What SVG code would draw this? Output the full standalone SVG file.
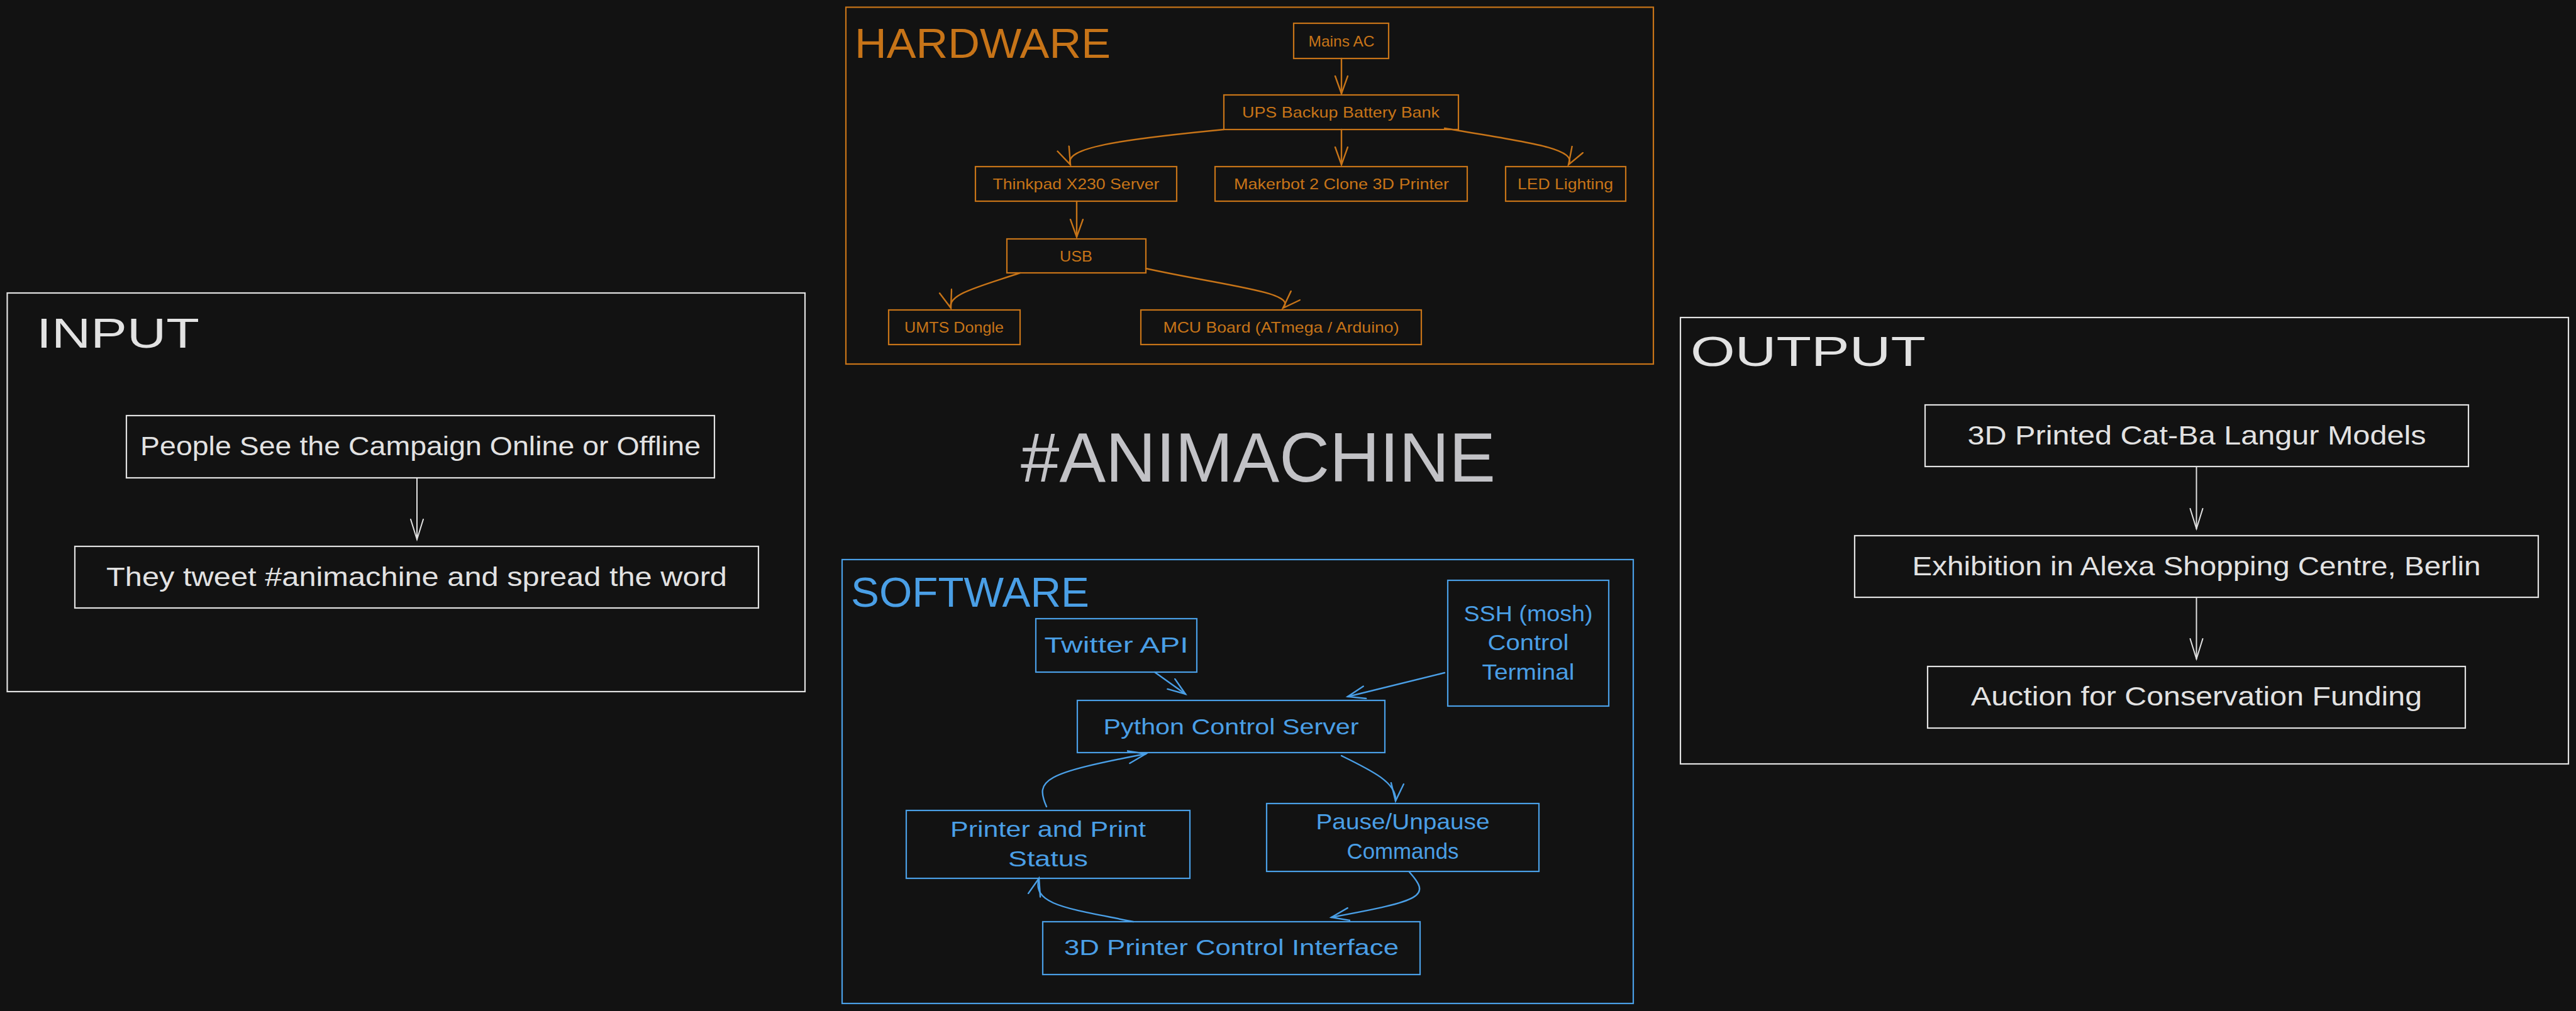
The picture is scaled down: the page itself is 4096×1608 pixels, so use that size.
<svg xmlns="http://www.w3.org/2000/svg" width="4096" height="1608" viewBox="0 0 4096 1608">
<style>
text{font-family:"Liberation Sans",Arial,sans-serif;}
.bg{fill:#121212;}
.box{fill:none;stroke-width:2.2;}
.hw{stroke:#c77418;}
.sw{stroke:#4a9fe6;}
.wt{stroke:#e2e2e2;}
.thw{fill:#c77418;}
.tsw{fill:#4a9fe6;}
.twt{fill:#e2e2e2;}
.c{text-anchor:middle;}
.f24{font-size:24px;}
.f35{font-size:35px;}
.f43{font-size:43px;}
.ttl{font-size:66px;}
.con{fill:none;stroke-width:2.4;stroke-linecap:round;}
</style>
<defs>
<marker id="ahw" markerUnits="userSpaceOnUse" markerWidth="34" markerHeight="26" refX="29" refY="11" orient="auto"><path d="M1,1 L29,11 L1,21" fill="none" stroke="#c77418" stroke-width="2.4" stroke-linecap="round"/></marker>
<marker id="asw" markerUnits="userSpaceOnUse" markerWidth="34" markerHeight="26" refX="29" refY="11" orient="auto"><path d="M1,1 L29,11 L1,21" fill="none" stroke="#4a9fe6" stroke-width="2.4" stroke-linecap="round"/></marker>
<marker id="awt" markerUnits="userSpaceOnUse" markerWidth="38" markerHeight="26" refX="33" refY="11" orient="auto"><path d="M1,1 L33,11 L1,21" fill="none" stroke="#e2e2e2" stroke-width="2" stroke-linecap="round"/></marker>
</defs>
<rect class="bg" x="0" y="0" width="4096" height="1608"/>

<!-- HARDWARE -->
<g id="hardware">
<rect class="box hw" x="1345" y="11.5" width="1284" height="567.5"/>
<text class="thw ttl" x="1359" y="92" textLength="407" lengthAdjust="spacingAndGlyphs">HARDWARE</text>
</g>
<g id="mains-ac"><rect class="box hw" x="2057" y="37" width="151" height="56"/><text class="thw f24 c" x="2133" y="73.5" textLength="105" lengthAdjust="spacingAndGlyphs">Mains AC</text></g>
<g id="ups"><rect class="box hw" x="1946" y="151" width="373" height="55"/><text class="thw f24 c" x="2132" y="187" textLength="314" lengthAdjust="spacingAndGlyphs">UPS Backup Battery Bank</text></g>
<g id="thinkpad"><rect class="box hw" x="1551" y="265" width="320" height="55"/><text class="thw f24 c" x="1711" y="301" textLength="265" lengthAdjust="spacingAndGlyphs">Thinkpad X230 Server</text></g>
<g id="makerbot"><rect class="box hw" x="1932" y="265" width="401" height="55"/><text class="thw f24 c" x="2133" y="301" textLength="342" lengthAdjust="spacingAndGlyphs">Makerbot 2 Clone 3D Printer</text></g>
<g id="led"><rect class="box hw" x="2394" y="265" width="191" height="55"/><text class="thw f24 c" x="2489" y="301" textLength="152" lengthAdjust="spacingAndGlyphs">LED Lighting</text></g>
<g id="usb"><rect class="box hw" x="1601" y="380" width="221" height="54"/><text class="thw f24 c" x="1711" y="415.5" textLength="52" lengthAdjust="spacingAndGlyphs">USB</text></g>
<g id="umts"><rect class="box hw" x="1413" y="493" width="209" height="55"/><text class="thw f24 c" x="1517" y="529" textLength="158" lengthAdjust="spacingAndGlyphs">UMTS Dongle</text></g>
<g id="mcu"><rect class="box hw" x="1814" y="493" width="446" height="55"/><text class="thw f24 c" x="2037" y="529" textLength="375" lengthAdjust="spacingAndGlyphs">MCU Board (ATmega / Arduino)</text></g>

<!-- SOFTWARE -->
<g id="software">
<rect class="box sw" x="1339" y="890" width="1258" height="706"/>
<text class="tsw ttl" x="1353" y="965" textLength="379" lengthAdjust="spacingAndGlyphs">SOFTWARE</text>
</g>
<g id="twitter-api"><rect class="box sw" x="1647" y="984" width="256" height="85"/><text class="tsw f35 c" x="1775" y="1038" textLength="229" lengthAdjust="spacingAndGlyphs">Twitter API</text></g>
<g id="ssh"><rect class="box sw" x="2302" y="923" width="256" height="200"/>
<text class="tsw f35 c" x="2430" y="988" textLength="205" lengthAdjust="spacingAndGlyphs">SSH (mosh)</text>
<text class="tsw f35 c" x="2430" y="1034" textLength="129" lengthAdjust="spacingAndGlyphs">Control</text>
<text class="tsw f35 c" x="2430" y="1081" textLength="147" lengthAdjust="spacingAndGlyphs">Terminal</text></g>
<g id="python-server"><rect class="box sw" x="1713" y="1114" width="489" height="83"/><text class="tsw f35 c" x="1957.5" y="1168" textLength="406" lengthAdjust="spacingAndGlyphs">Python Control Server</text></g>
<g id="printer-status"><rect class="box sw" x="1441" y="1289" width="451" height="108"/>
<text class="tsw f35 c" x="1666.5" y="1331" textLength="311" lengthAdjust="spacingAndGlyphs">Printer and Print</text>
<text class="tsw f35 c" x="1666.5" y="1378" textLength="127" lengthAdjust="spacingAndGlyphs">Status</text></g>
<g id="pause-commands"><rect class="box sw" x="2014" y="1278" width="433" height="108"/>
<text class="tsw f35 c" x="2230.5" y="1319" textLength="276" lengthAdjust="spacingAndGlyphs">Pause/Unpause</text>
<text class="tsw f35 c" x="2230.5" y="1366" textLength="178" lengthAdjust="spacingAndGlyphs">Commands</text></g>
<g id="printer-interface"><rect class="box sw" x="1658" y="1466" width="600" height="84"/><text class="tsw f35 c" x="1958" y="1519" textLength="532" lengthAdjust="spacingAndGlyphs">3D Printer Control Interface</text></g>

<!-- INPUT -->
<g id="input">
<rect class="box wt" x="11.5" y="466" width="1268.5" height="634"/>
<text class="twt ttl" x="58" y="553" textLength="259" lengthAdjust="spacingAndGlyphs">INPUT</text>
</g>
<g id="people-see"><rect class="box wt" x="201" y="661" width="935" height="99"/><text class="twt f43 c" x="668.5" y="724" textLength="891" lengthAdjust="spacingAndGlyphs">People See the Campaign Online or Offline</text></g>
<g id="they-tweet"><rect class="box wt" x="119" y="869" width="1087" height="98"/><text class="twt f43 c" x="662.5" y="932" textLength="987" lengthAdjust="spacingAndGlyphs">They tweet #animachine and spread the word</text></g>

<!-- OUTPUT -->
<g id="output">
<rect class="box wt" x="2672" y="505" width="1412" height="710"/>
<text class="twt ttl" x="2688" y="582" textLength="374" lengthAdjust="spacingAndGlyphs">OUTPUT</text>
</g>
<g id="models"><rect class="box wt" x="3061" y="644" width="864" height="98"/><text class="twt f43 c" x="3493" y="707" textLength="729" lengthAdjust="spacingAndGlyphs">3D Printed Cat-Ba Langur Models</text></g>
<g id="exhibition"><rect class="box wt" x="2949" y="852" width="1087" height="98"/><text class="twt f43 c" x="3492.5" y="915" textLength="904" lengthAdjust="spacingAndGlyphs">Exhibition in Alexa Shopping Centre, Berlin</text></g>
<g id="auction"><rect class="box wt" x="3065" y="1060" width="855" height="98"/><text class="twt f43 c" x="3492.5" y="1122" textLength="717" lengthAdjust="spacingAndGlyphs">Auction for Conservation Funding</text></g>

<!-- TITLE -->
<g id="animachine"><text x="2000.5" y="766" class="c" style="font-size:112px;fill:#c2c2c6" textLength="755" lengthAdjust="spacingAndGlyphs">#ANIMACHINE</text></g>

<g id="connectors">
<path class="con hw" marker-end="url(#ahw)" d="M2133,93 L2133,149"/>
<path class="con hw" marker-end="url(#ahw)" d="M1946,206 C1780,222 1690,235 1702,262"/>
<path class="con hw" marker-end="url(#ahw)" d="M2133,206 L2133,262"/>
<path class="con hw" marker-end="url(#ahw)" d="M2297,204 C2420,225 2510,235 2494,262"/>
<path class="con hw" marker-end="url(#ahw)" d="M1712,320 L1712,377"/>
<path class="con hw" marker-end="url(#ahw)" d="M1622,434 C1560,455 1505,468 1512,490"/>
<path class="con hw" marker-end="url(#ahw)" d="M1822,427 C1950,455 2065,465 2040,490"/>
<path class="con sw" marker-end="url(#asw)" d="M1836,1069 L1885,1104"/>
<path class="con sw" marker-end="url(#asw)" d="M2297,1070 L2143,1108"/>
<path class="con sw" marker-end="url(#asw)" d="M2133,1202 C2180,1225 2222,1245 2219,1274"/>
<path class="con sw" marker-end="url(#asw)" d="M2241,1387 C2275,1425 2265,1432 2117,1459"/>
<path class="con sw" marker-end="url(#asw)" d="M1802,1466 C1700,1445 1640,1440 1652,1397"/>
<path class="con sw" marker-end="url(#asw)" d="M1664,1283 C1645,1240 1660,1230 1822,1199"/>
<path class="con wt" style="stroke-width:2" marker-end="url(#awt)" d="M663,760 L663,858"/>
<path class="con wt" style="stroke-width:2" marker-end="url(#awt)" d="M3492.5,742 L3492.5,841"/>
<path class="con wt" style="stroke-width:2" marker-end="url(#awt)" d="M3492.5,950 L3492.5,1048"/>
</g>
</svg>
